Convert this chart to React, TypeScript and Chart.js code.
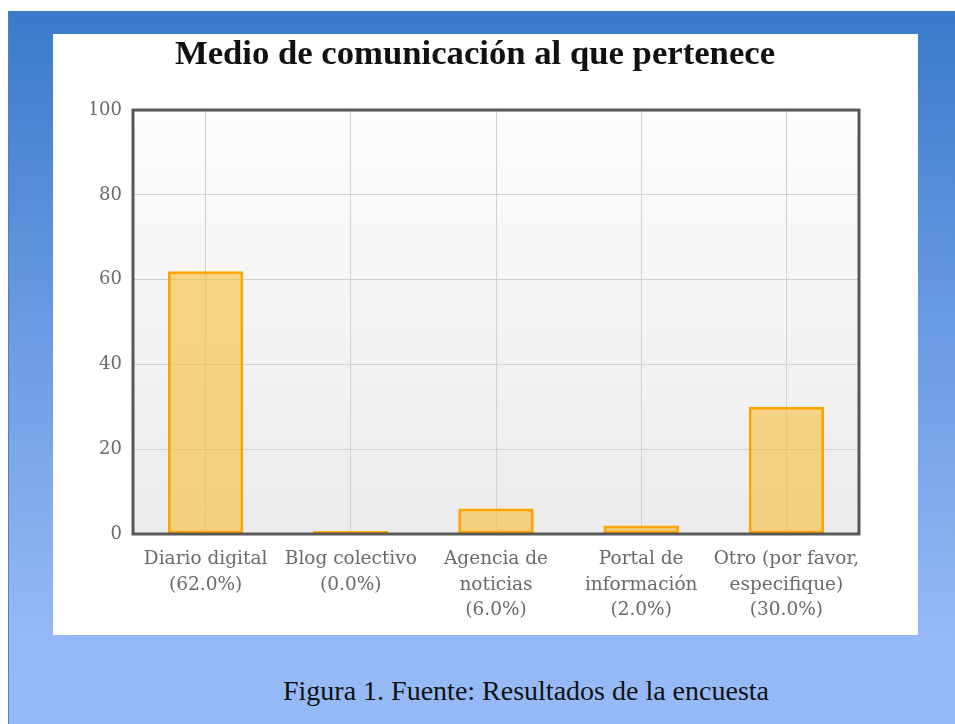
import React, { useEffect, useRef } from "react";
import { Chart, registerables } from "chart.js";

Chart.register(...registerables);

const chartTitle = "Medio de comunicación al que pertenece";
const categories: string[][] = [
  ["Diario digital", "(62.0%)"],
  ["Blog colectivo", "(0.0%)"],
  ["Agencia de", "noticias", "(6.0%)"],
  ["Portal de", "información", "(2.0%)"],
  ["Otro (por favor,", "especifique)", "(30.0%)"],
];
const values = [62, 0, 6, 2, 30];
const yMin = 0;
const yMax = 100;
const yStep = 20;
const caption = "Figura 1. Fuente: Resultados de la encuesta";

const CW = 865;
const CH = 601;

const plotBg = {
  id: "plotBg",
  beforeDraw(chart: any) {
    const { ctx, chartArea } = chart;
    const { left, top, right, bottom } = chartArea;
    const g = ctx.createLinearGradient(0, top, 0, bottom);
    g.addColorStop(0, "#fdfdfd");
    g.addColorStop(1, "#ebebeb");
    ctx.save();
    ctx.fillStyle = g;
    ctx.fillRect(left, top, right - left, bottom - top);
    ctx.restore();
  },
};

const plotBorder = {
  id: "plotBorder",
  afterDatasetsDraw(chart: any) {
    const { ctx, chartArea } = chart;
    const { left, top, right, bottom } = chartArea;
    ctx.save();
    ctx.strokeStyle = "#585858";
    ctx.lineWidth = 3;
    ctx.strokeRect(left, top, right - left, bottom - top);
    ctx.restore();
  },
};

export default function App() {
  const ref = useRef<HTMLCanvasElement | null>(null);

  useEffect(() => {
    if (!ref.current) return;
    const chart = new Chart(ref.current, {
      type: "bar",
      data: {
        labels: categories,
        datasets: [
          {
            data: values,
            backgroundColor: "rgba(245,190,60,0.6)",
            borderColor: "#FFA500",
            borderWidth: 3,
            borderSkipped: false,
            minBarLength: 3,
            categoryPercentage: 1,
            barPercentage: 0.52,
          },
        ],
      },
      options: {
        responsive: false,
        animation: false,
        devicePixelRatio: 1,
        layout: { padding: { left: 38, right: 59, top: 0, bottom: 0 } },
        plugins: {
          legend: { display: false },
          tooltip: { enabled: false },
          title: {
            display: true,
            text: chartTitle,
            color: "#111",
            font: { family: "'Liberation Serif', serif", size: 34.7, weight: "bold", lineHeight: 1.2 },
            padding: { top: 0, bottom: 34.4 },
          },
        },
        scales: {
          x: {
            grid: { offset: false, color: "#d2d2d2", drawTicks: false, lineWidth: 1 },
            border: { display: false },
            ticks: {
              color: "#6a6a6a",
              font: { family: "'DejaVu Serif', serif", size: 18.5, lineHeight: 1.37 },
              padding: 13,
              maxRotation: 0,
              autoSkip: false,
            },
            afterFit(scale: any) {
              scale.height = 101;
            },
          },
          y: {
            min: yMin,
            max: yMax,
            grid: { color: "#d2d2d2", drawTicks: false, lineWidth: 1 },
            border: { display: false },
            ticks: {
              stepSize: yStep,
              color: "#6a6a6a",
              font: { family: "'DejaVu Serif', serif", size: 18 },
              padding: 11,
            },
            afterFit(scale: any) {
              scale.width = 42;
            },
          },
        },
      },
      plugins: [plotBg, plotBorder],
    } as any);
    return () => chart.destroy();
  }, []);

  return (
    <div
      style={{
        position: "absolute",
        left: 0,
        top: 0,
        width: 955,
        height: 724,
        background: "#ffffff",
        overflow: "hidden",
      }}
    >
      <div
        style={{
          position: "absolute",
          left: 8,
          top: 11,
          width: 947,
          height: 713,
          background: "linear-gradient(to bottom, #3a7acb 0%, #6b9be3 45%, #95b9f6 88%, #96baf7 100%)",
          borderLeft: "1px solid #5a7fb8",
          boxSizing: "border-box",
        }}
      />
      <div
        style={{
          position: "absolute",
          left: 53,
          top: 34,
          width: CW,
          height: CH,
          background: "#ffffff",
        }}
      >
        <canvas ref={ref} width={CW} height={CH} style={{ display: "block", width: CW, height: CH }} />
      </div>
      <div
        style={{
          position: "absolute",
          left: 0,
          width: 1052,
          top: 674,
          textAlign: "center",
          fontFamily: "'Liberation Serif', serif",
          fontSize: 28,
          color: "#111",
          lineHeight: "34px",
        }}
      >
        {caption}
      </div>
    </div>
  );
}
